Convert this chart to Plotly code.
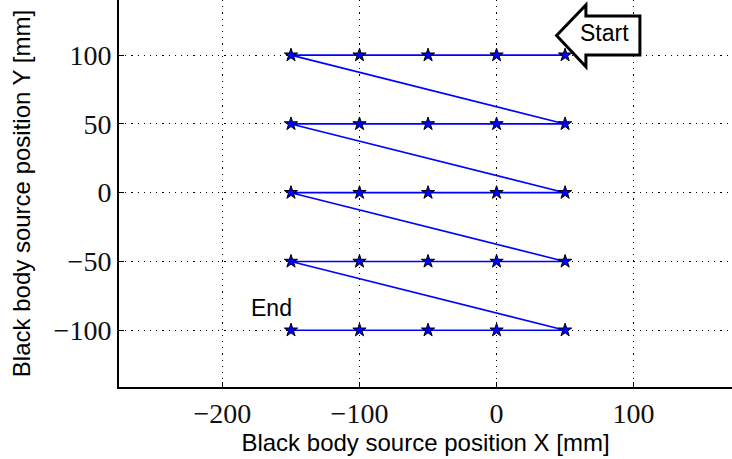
import plotly.graph_objects as go

# scan grid (raster, right-to-left, top-to-bottom)
x_positions = [50, 0, -50, -100, -150]
y_rows = [100, 50, 0, -50, -100]
x_ticks = [-200, -100, 0, 100]
y_ticks = [-100, -50, 0, 50, 100]

path_x, path_y = [], []
for yv in y_rows:
    for xv in x_positions:
        path_x.append(xv)
        path_y.append(yv)

fig = go.Figure()
fig.add_trace(go.Scatter(
    x=path_x, y=path_y, mode="lines+markers",
    line=dict(color="#0000ff", width=1.6),
    marker=dict(symbol="star", size=10, color="#0000ff",
                line=dict(color="black", width=1)),
    showlegend=False, hoverinfo="skip"))

# "Start" left-arrow box (matplotlib larrow style), data coordinates
tip_x, head_x, right_x = 43.8, 65.2, 104.6
body_top, body_bot, head_top, head_bot, mid_y = 128.5, 100.1, 136.5, 91.6, 114.3
arrow_path = (f"M {tip_x},{mid_y} L {head_x},{head_top} L {head_x},{body_top} "
              f"L {right_x},{body_top} L {right_x},{body_bot} L {head_x},{body_bot} "
              f"L {head_x},{head_bot} Z")
fig.add_shape(type="path", path=arrow_path, xref="x", yref="y",
              line=dict(color="black", width=3), fillcolor="white", layer="above")

fig.add_annotation(x=79, y=116, text="Start", showarrow=False,
                   font=dict(family="Liberation Sans, Arial", size=23, color="black"))
fig.add_annotation(x=-164, y=-84, text="End", showarrow=False,
                   font=dict(family="Liberation Sans, Arial", size=23, color="black"))

axis_common = dict(
    showline=True, linecolor="black", linewidth=2, mirror=False,
    ticks="inside", ticklen=5, tickwidth=1, tickcolor="black",
    showgrid=True, gridcolor="black", gridwidth=1.2, griddash="1.2px,5px",
    zeroline=False,
    tickfont=dict(family="Liberation Serif, DejaVu Serif", size=28, color="#111111"),
)

fig.update_xaxes(range=[-275.5, 171.8], tickvals=x_ticks,
                 title=dict(text="Black body source position X [mm]",
                            font=dict(family="Liberation Sans, Arial", size=24, color="black"),
                            standoff=4),
                 **axis_common)
fig.update_yaxes(range=[-141.3, 140.1], tickvals=y_ticks,
                 title=dict(text="Black body source position Y [mm]",
                            font=dict(family="Liberation Sans, Arial", size=24, color="black"),
                            standoff=16),
                 **axis_common)

fig.update_layout(
    width=732, height=459,
    margin=dict(l=119, r=0, t=0, b=72),
    plot_bgcolor="white", paper_bgcolor="white",
)

fig.write_html("out.html")
